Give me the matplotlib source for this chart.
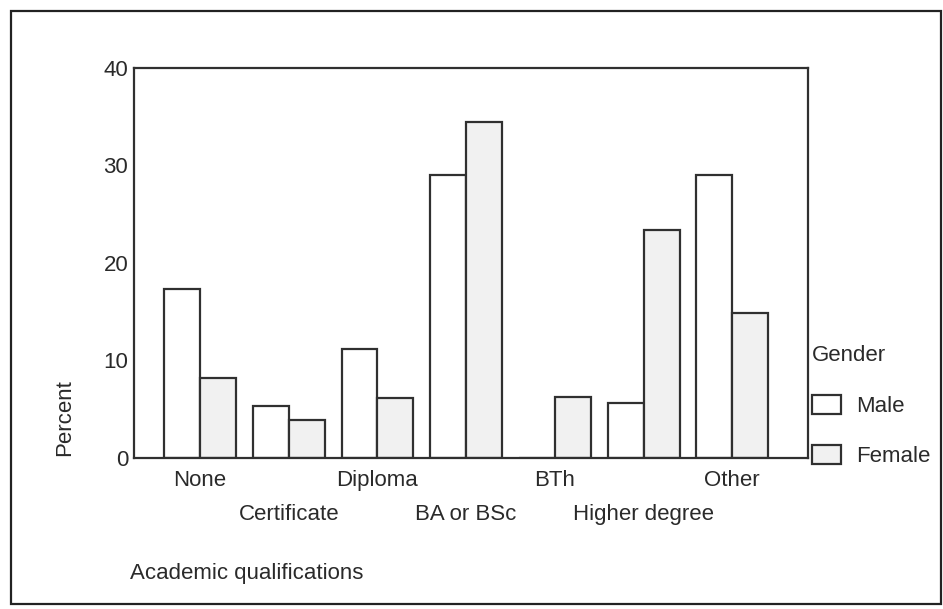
import numpy as np
import matplotlib.pyplot as plt
from matplotlib.patches import Patch, Rectangle

# Data (percent)
qualifications = ["None", "Certificate", "Diploma", "BA or BSc", "BTh", "Higher degree", "Other"]
male = [17.3, 5.3, 11.2, 29.0, 0.0, 5.6, 29.0]
female = [8.2, 3.9, 6.1, 34.4, 6.2, 23.4, 14.9]
y_ticks = [0, 10, 20, 30, 40]

plt.rcParams["font.family"] = ["Liberation Sans", "DejaVu Sans"]
text_col = "#2a2a2a"
edge_col = "#303030"
female_col = "#f1f1f1"
fs = 16

fig = plt.figure(figsize=(9.43, 6.09), dpi=100)
ax = fig.add_axes([0.142, 0.248, 0.715, 0.641])

x = np.arange(len(qualifications))
w = 0.405
ax.bar(x - w / 2, male, width=w, color="white", edgecolor=edge_col, linewidth=1.6)
ax.bar(x + w / 2, female, width=w, color=female_col, edgecolor=edge_col, linewidth=1.6)

ax.set_xlim(-0.745, 6.855)
ax.set_ylim(0, 40)
ax.set_yticks(y_ticks)
ax.set_yticklabels([str(v) for v in y_ticks], fontsize=fs, color=text_col)
ax.set_xticks(x)
ax.set_xticklabels(qualifications, fontsize=fs, color=text_col)
ax.tick_params(axis="both", length=0)
ax.tick_params(axis="y", pad=4)

# staggered category labels
for i, tick in enumerate(ax.xaxis.get_major_ticks()):
    tick.set_pad(9 if i % 2 == 0 else 33)

for sp in ax.spines.values():
    sp.set_linewidth(1.6)
    sp.set_color(edge_col)

# axis titles
fig.text(65 / 943, 1 - 418 / 609, "Percent", rotation=90, ha="center", va="center",
         fontsize=fs, color=text_col)
fig.text(130 / 943, 1 - 573 / 609, "Academic qualifications", ha="left", va="center",
         fontsize=fs, color=text_col)

# legend
handles = [
    Patch(facecolor="white", edgecolor=edge_col, linewidth=1.6, label="Male"),
    Patch(facecolor=female_col, edgecolor=edge_col, linewidth=1.6, label="Female"),
]
leg = fig.legend(handles=handles, title="Gender", loc="upper left",
                 bbox_to_anchor=(801 / 943, 1 - 334 / 609), frameon=False,
                 fontsize=fs, title_fontsize=fs, handlelength=1.3, handleheight=0.95,
                 handletextpad=0.7, labelspacing=1.22, alignment="left", borderpad=0)
leg.get_title().set_color(text_col)
leg._legend_box.sep = 21
for t in leg.get_texts():
    t.set_color(text_col)

# outer frame of the figure
fig.patches.append(Rectangle((0.012, 0.008), 0.986, 0.974, transform=fig.transFigure,
                             fill=False, edgecolor="#222222", linewidth=1.6))

fig.savefig("out.png", dpi=100)
